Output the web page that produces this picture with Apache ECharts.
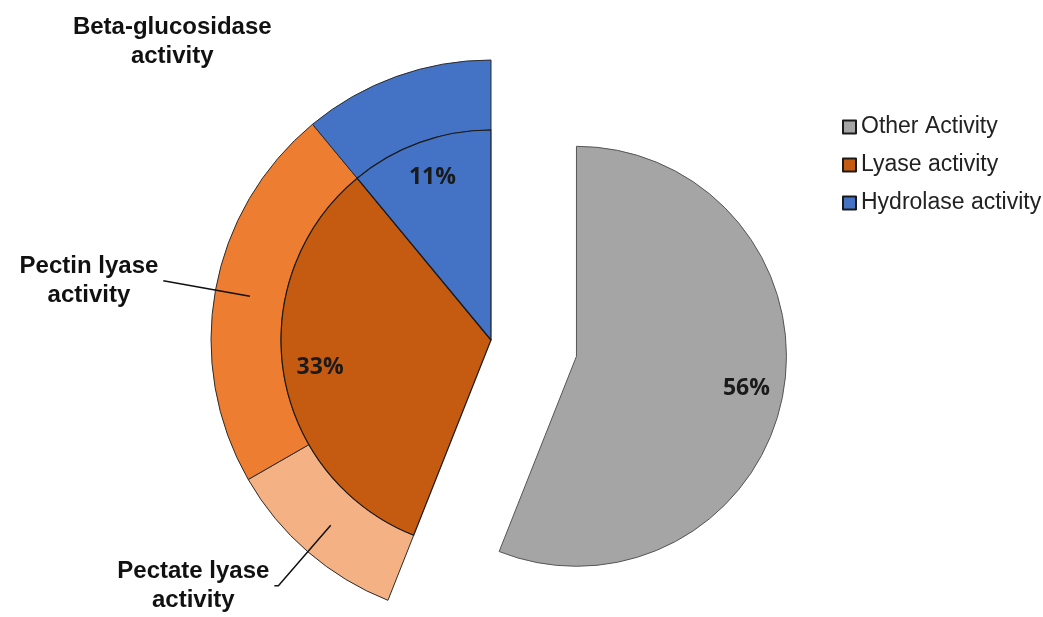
<!DOCTYPE html>
<html>
<head>
<meta charset="utf-8">
<script src="https://cdn.jsdelivr.net/npm/echarts@6/dist/echarts.min.js"></script>
<style>
  html, body { margin: 0; padding: 0; background: #fff; }
  #chart { width: 1043px; height: 617px; }
</style>
</head>
<body>
<div id="chart"></div>
<script>
// inner pie: share of activities
const innerNames = ['Other Activity', 'Lyase activity', 'Hydrolase activity'];
const innerValues = [56, 33, 11];
const innerColors = ['#A5A5A5', '#C55A11', '#4472C4'];

// outer ring: breakdown of lyase / hydrolase
const outerNames = ['Pectate lyase\nactivity', 'Pectin lyase\nactivity', 'Beta-glucosidase\nactivity'];
const outerValues = [10.7, 22.3, 11];
const outerColors = ['#F4B183', '#ED7D31', '#4472C4'];

const myChart = echarts.init(document.getElementById('chart'));

const border = { borderColor: '#2b2b2b', borderWidth: 1 };
const center = [491, 340];
const offset = 87;

// leader line settings per outer label
const outerLines = [
    { show: true, length: 80, length2: 4 },
    { show: true, length: 88, length2: 0 },
    { show: false, length: 72, length2: 107 }
];

const hidden = {
    itemStyle: { color: 'transparent', borderWidth: 0 },
    label: { show: false },
    labelLine: { show: false }
};

const option = {
    animation: false,
    legend: {
        orient: 'vertical',
        left: 837,
        top: 109,
        itemWidth: 13,
        itemHeight: 13,
        itemGap: 12,
        icon: 'rect',
        data: innerNames,
        textStyle: { fontFamily: 'Liberation Sans', fontSize: 23, color: '#222', lineHeight: 26 }
    },
    series: [
        {
            // outer ring
            type: 'pie',
            z: 2,
            center: center,
            radius: [210, 280],
            startAngle: 90,
            silent: true,
            label: { show: false },
            labelLine: { show: false },
            itemStyle: border,
            data: [{ name: '', value: innerValues[0], ...hidden }].concat(outerValues.map((v, i) => ({
                name: outerNames[i],
                value: v,
                itemStyle: { color: outerColors[i] }
            })))
        },
        {
            // outer label carrier, line starts at middle of the ring
            type: 'pie',
            z: 6,
            center: center,
            radius: [210, 245],
            startAngle: 90,
            silent: true,
            avoidLabelOverlap: false,
            itemStyle: { color: 'transparent', borderWidth: 0 },
            label: {
                show: true,
                position: 'outside',
                formatter: p => p.name.split('\n').map(s => '{t|' + s + '}').join('\n'),
                rich: {
                    t: {
                        align: 'center',
                        fontFamily: 'Liberation Sans',
                        fontWeight: 'bold',
                        fontSize: 24,
                        lineHeight: 29,
                        color: '#111'
                    }
                }
            },
            labelLine: { lineStyle: { color: '#111', width: 1.5 } },
            data: [{ name: '', value: innerValues[0], ...hidden }].concat(outerValues.map((v, i) => ({
                name: outerNames[i],
                value: v,
                itemStyle: { color: 'transparent', borderWidth: 0 },
                labelLine: outerLines[i]
            })))
        },
        {
            // inner pie
            type: 'pie',
            z: 3,
            center: center,
            radius: [0, 210],
            startAngle: 90,
            selectedMode: 'single',
            selectedOffset: offset,
            silent: true,
            label: { show: false },
            labelLine: { show: false },
            itemStyle: { borderColor: '#1a1a1a', borderWidth: 1.2 },
            data: innerValues.map((v, i) => ({
                name: innerNames[i],
                value: v,
                selected: i === 0,
                itemStyle: { color: innerColors[i] },
                select: { itemStyle: { color: innerColors[i], borderColor: '#555', borderWidth: 1 } }
            }))
        },
        {
            // percent label carrier
            type: 'pie',
            z: 6,
            center: center,
            radius: [130, 210],
            startAngle: 90,
            selectedMode: 'single',
            selectedOffset: offset,
            silent: true,
            itemStyle: { color: 'transparent', borderWidth: 0 },
            label: {
                show: true,
                position: 'inside',
                formatter: '{d}%',
                fontFamily: 'Open Sans',
                fontWeight: 'bold',
                fontSize: 23,
                color: '#1a1a1a'
            },
            labelLine: { show: false },
            data: innerValues.map((v, i) => ({
                name: innerNames[i] + ' ',
                value: v,
                selected: i === 0,
                select: { itemStyle: { color: 'transparent', borderWidth: 0 } }
            }))
        }
    ]
};

myChart.setOption(option);
</script>
</body>
</html>
